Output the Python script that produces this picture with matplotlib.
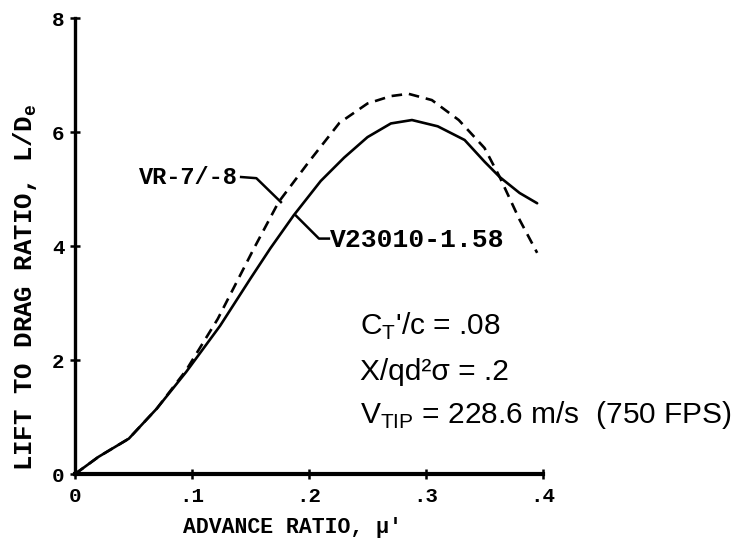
import matplotlib
matplotlib.use('Agg')
import matplotlib.pyplot as plt

# advance ratio vs lift/drag
mu_v23010 = [0, 0.02, 0.046, 0.07, 0.095, 0.124, 0.15, 0.167, 0.187, 0.21,
             0.23, 0.25, 0.27, 0.288, 0.31, 0.333, 0.35, 0.363, 0.38, 0.395]
ld_v23010 = [0, 0.3, 0.62, 1.15, 1.79, 2.6, 3.43, 3.96, 4.54, 5.14,
             5.55, 5.91, 6.15, 6.21, 6.1, 5.86, 5.48, 5.21, 4.93, 4.75]

mu_vr7 = [0, 0.02, 0.046, 0.07, 0.095, 0.122, 0.153, 0.174, 0.2, 0.226,
          0.25, 0.27, 0.285, 0.305, 0.328, 0.35, 0.363, 0.38, 0.395]
ld_vr7 = [0, 0.3, 0.62, 1.15, 1.82, 2.72, 3.96, 4.77, 5.48, 6.16,
          6.5, 6.63, 6.67, 6.56, 6.21, 5.72, 5.21, 4.46, 3.88]

x_ticks = [0, 0.1, 0.2, 0.3, 0.4]
x_tick_labels = ['0', '.1', '.2', '.3', '.4']
y_ticks = [0, 2, 4, 6, 8]
y_tick_labels = ['0', '2', '4', '6', '8']

mono = ['Liberation Mono', 'DejaVu Sans Mono']
sans = ['Liberation Sans', 'DejaVu Sans']

fig = plt.figure(figsize=(7.42, 5.44), dpi=100)
ax = fig.add_axes([75 / 742, 70 / 544, 468 / 742, 456 / 544])

ax.plot(mu_v23010, ld_v23010, color='black', lw=1.9, solid_capstyle='round')
ax.plot(mu_vr7, ld_vr7, color='black', lw=1.9, dashes=(4, 2.6))

ax.set_xlim(0, 0.4)
ax.set_ylim(0, 8)
ax.spines['top'].set_visible(False)
ax.spines['right'].set_visible(False)
ax.spines['left'].set_linewidth(2.4)
ax.spines['bottom'].set_linewidth(3.0)
ax.set_xticks(x_ticks)
ax.set_xticklabels(x_tick_labels, family=mono, weight='bold', fontsize=15)
ax.set_yticks(y_ticks)
ax.set_yticklabels(y_tick_labels, family=mono, weight='bold', fontsize=15)
ax.tick_params(direction='inout', length=7, width=1.8, pad=6)
ax.tick_params(axis='y', pad=4)

# axis labels
fig.text(25 / 742, 1 - 287 / 544, 'LIFT TO DRAG RATIO, L/D$_\\mathregular{e}$',
         rotation=90, ha='center', va='center', family=mono, weight='bold',
         fontsize=18.5)
fig.text(292 / 742, 1 - 527 / 544, "ADVANCE RATIO, \u03bc'", ha='center',
         va='center', family=mono, weight='bold', fontsize=15.5)

# curve labels with leaders
ax.plot([0.142, 0.155, 0.176], [5.21, 5.19, 4.77], color='black', lw=1.8)
ax.text(0.139, 5.21, 'VR-7/-8', ha='right', va='center', family=mono,
        weight='bold', fontsize=17)
ax.plot([0.189, 0.2085, 0.217], [4.53, 4.13, 4.13], color='black', lw=1.8)
ax.text(0.2175, 4.1, 'V23010-1.58', ha='left', va='center', family=mono,
        weight='bold', fontsize=19)

# operating conditions
ax.text(0.244, 2.58, "C$_\\mathregular{T}$'/c = .08", family=sans,
        fontsize=21.5, va='center')
ax.text(0.244, 1.79, 'X/qd\u00b2\u03c3 = .2', family=sans,
        fontsize=21.5, va='center')
ax.text(0.244, 1.03, 'V$_\\mathregular{TIP}$ = 228.6 m/s  (750 FPS)',
        family=sans, fontsize=21.5, va='center', clip_on=False)

fig.savefig('out.png', dpi=100)
